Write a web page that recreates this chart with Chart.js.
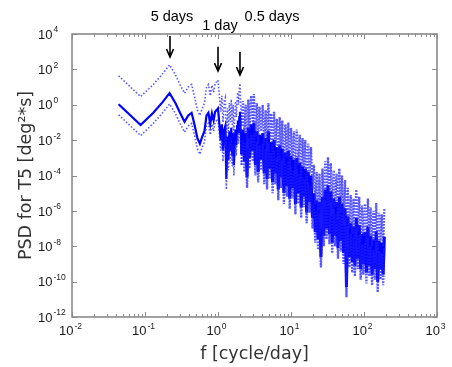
<!DOCTYPE html>
<html><head><meta charset="utf-8">
<script src="https://cdn.jsdelivr.net/npm/chart.js@4.4.1/dist/chart.umd.min.js"></script>
<style>html,body{margin:0;padding:0;background:#fff;overflow:hidden}canvas{display:block}</style>
</head><body>
<canvas id="c" width="452" height="367"></canvas>
<script>
// Frequency [cycle/day]
const frequency = [
  0.0435, 0.087, 0.13, 0.174, 0.217, 0.261, 0.304, 0.348, 0.391, 0.435,
  0.478, 0.522, 0.565, 0.609, 0.652, 0.696, 0.739, 0.783, 0.826, 0.87,
  0.913, 0.957, 1.0, 1.04, 1.09, 1.13, 1.17, 1.22, 1.26, 1.30,
  1.35, 1.39, 1.43, 1.48, 1.52, 1.57, 1.61, 1.65, 1.70, 1.74,
  1.78, 1.83, 1.87, 1.91, 1.96, 2.0,
  2.1, 2.2, 2.3, 2.4, 2.5, 2.6, 2.7, 2.85, 3.0, 3.1,
  3.25, 3.4, 3.55, 3.7, 3.9, 4.1, 4.3, 4.5, 4.7, 4.9,
  5.1, 5.35, 5.6, 5.85, 6.1, 6.4, 6.7, 7.0, 7.3, 7.6,
  8.0, 8.4, 8.8, 9.2, 9.6, 10, 10.5, 11, 11.5, 12,
  12.6, 13.2, 13.8, 14.4, 15, 15.7, 16.4, 17.2, 18, 18.8,
  19.7, 20.6, 21.5, 22.5, 23.5, 24.6, 25.7, 26.9, 28.1, 29.4,
  30.7, 32.1, 33.6, 35.1, 36.7, 38.4, 40.2, 42, 44, 46,
  48, 50, 52.5, 55, 57.5, 60, 63, 66, 69, 72,
  75, 78.5, 82, 86, 90, 94, 98, 103, 108, 113,
  118, 123, 129, 135, 141, 147, 154, 161, 168, 175,
  183, 190
];
// PSD estimate [deg^2*s]
const psd = [
  1.07, 7.2e-2, 0.35, 1.4, 4.5, 1.26, 0.33, 0.11, 0.25, 0.35,
  7.1e-2, 1.3e-2, 6.3e-3, 1.6e-2, 3.2e-2, 0.25, 0.35, 7.9e-2, 0.32, 0.13,
  0.4, 0.5, 0.63, 0.1, 1e-2, 7.9e-2, 2.5e-3, 4e-2, 6.3e-2, 6.3e-5,
  1.6e-2, 7.9e-4, 3.2e-2, 2.5e-3, 5e-2, 1.3e-3, 2.5e-2, 4e-4, 1e-2, 4e-2,
  5e-3, 6.3e-2, 0.13, 2.5e-2, 0.2, 0.4,
  1.6e-3, 4e-2, 6.3e-4, 2.5e-2, 7.9e-5, 5e-2, 1e-3, 7.9e-2, 2.5e-3, 0.1,
  4e-4, 3.2e-2, 1.6e-4, 2e-2, 7.9e-4, 2.5e-2, 1.3e-4, 1.3e-2, 6.3e-5, 3.2e-2,
  2.5e-4, 7.9e-3, 4e-5, 1e-2, 1.3e-4, 4e-3, 1.6e-5, 5e-3, 7.9e-5, 3.2e-3,
  1e-5, 2e-3, 2.5e-5, 2.5e-3, 5e-6, 1.3e-3, 2e-5, 7.9e-4, 2.5e-6, 1e-3,
  1e-5, 5e-4, 1.6e-6, 3.2e-4, 6.3e-6, 2.5e-4, 7.9e-7, 1.6e-4, 3.2e-6, 1e-4,
  4e-7, 1e-5, 6.3e-8, 4e-6, 2.5e-8, 3.2e-6, 2.5e-9, 6.3e-6, 4e-8, 1.6e-5,
  1e-7, 2.8e-5, 5e-8, 1.3e-5, 1.6e-8, 5e-6, 4e-8, 3.2e-6, 7.9e-9, 6.3e-6,
  2e-8, 2.5e-6, 4e-9, 1.4e-6, 5e-11, 5e-7, 2.5e-9, 2e-7, 1.3e-9, 1.3e-7,
  7.9e-10, 4e-7, 2e-9, 1.6e-7, 5e-10, 5e-8, 1e-9, 6.3e-8, 3.2e-10, 1.3e-7,
  7.9e-10, 4e-8, 2.5e-10, 2.5e-8, 5e-10, 7.1e-8, 1e-10, 2e-8, 5e-10, 1.6e-8,
  2.5e-10, 3.5e-8
];
// Upper confidence bound
const psdUpper = [
  43, 2.9, 14, 56, 180, 50, 13, 4.5, 10, 14,
  2.8, 0.5, 0.25, 0.63, 1.26, 10, 14, 3.2, 12.6, 5,
  16, 20, 25, 4, 0.4, 3.2, 0.1, 1.6, 2.5, 2.5e-3,
  0.63, 3.2e-2, 1.26, 0.1, 2, 5e-2, 1, 1.6e-2, 0.4, 1.6,
  0.2, 2.5, 5, 1, 7.9, 16,
  6.3e-2, 1.6, 2.5e-2, 1, 3.2e-3, 2, 4e-2, 3.2, 0.1, 4,
  1.6e-2, 1.26, 6.3e-3, 0.79, 3.2e-2, 1, 5e-3, 0.5, 2.5e-3, 1.26,
  1e-2, 0.32, 1.6e-3, 0.4, 5e-3, 0.16, 6.3e-4, 0.2, 3.2e-3, 0.13,
  4e-4, 7.9e-2, 1e-3, 0.1, 2e-4, 5e-2, 7.9e-4, 3.2e-2, 1e-4, 4e-2,
  4e-4, 2e-2, 6.3e-5, 1.3e-2, 2.5e-4, 1e-2, 3.2e-5, 6.3e-3, 1.3e-4, 4e-3,
  1.6e-5, 4e-4, 2.5e-6, 1.6e-4, 1e-6, 1.3e-4, 1e-7, 2.5e-4, 1.6e-6, 6.3e-4,
  4e-6, 1.1e-3, 2e-6, 5e-4, 6.3e-7, 2e-4, 1.6e-6, 1.3e-4, 3.2e-7, 2.5e-4,
  7.9e-7, 1e-4, 1.6e-7, 5.6e-5, 2e-9, 2e-5, 1e-7, 7.9e-6, 5e-8, 5e-6,
  3.2e-8, 1.6e-5, 7.9e-8, 6.3e-6, 2e-8, 2e-6, 4e-8, 2.5e-6, 1.3e-8, 5e-6,
  3.2e-8, 1.6e-6, 1e-8, 1e-6, 2e-8, 2.8e-6, 4e-9, 7.9e-7, 2e-8, 6.3e-7,
  1e-8, 1.4e-6
];
// Lower confidence bound
const psdLower = [
  0.27, 1.8e-2, 8.9e-2, 0.35, 1.1, 0.32, 8.3e-2, 2.8e-2, 6.3e-2, 8.9e-2,
  1.8e-2, 3.2e-3, 1.6e-3, 4e-3, 7.9e-3, 6.3e-2, 8.9e-2, 2e-2, 7.9e-2, 3.2e-2,
  0.1, 0.13, 0.16, 2.5e-2, 2.5e-3, 2e-2, 6.3e-4, 1e-2, 1.6e-2, 1.6e-5,
  4e-3, 2e-4, 7.9e-3, 6.3e-4, 1.3e-2, 3.2e-4, 6.3e-3, 1e-4, 2.5e-3, 1e-2,
  1.3e-3, 1.6e-2, 3.2e-2, 6.3e-3, 5e-2, 0.1,
  4e-4, 1e-2, 1.6e-4, 6.3e-3, 2e-5, 1.3e-2, 2.5e-4, 2e-2, 6.3e-4, 2.5e-2,
  1e-4, 7.9e-3, 4e-5, 5e-3, 2e-4, 6.3e-3, 3.2e-5, 3.2e-3, 1.6e-5, 7.9e-3,
  6.3e-5, 2e-3, 1e-5, 2.5e-3, 3.2e-5, 1e-3, 4e-6, 1.3e-3, 2e-5, 7.9e-4,
  2.5e-6, 5e-4, 6.3e-6, 6.3e-4, 1.3e-6, 3.2e-4, 5e-6, 2e-4, 6.3e-7, 2.5e-4,
  2.5e-6, 1.3e-4, 4e-7, 7.9e-5, 1.6e-6, 6.3e-5, 2e-7, 4e-5, 7.9e-7, 2.5e-5,
  1e-7, 2.5e-6, 1.6e-8, 1e-6, 6.3e-9, 7.9e-7, 6.3e-10, 1.6e-6, 1e-8, 4e-6,
  2.5e-8, 7.1e-6, 1.3e-8, 3.2e-6, 4e-9, 1.3e-6, 1e-8, 7.9e-7, 2e-9, 1.6e-6,
  5e-9, 6.3e-7, 1e-9, 3.5e-7, 1.3e-11, 1.3e-7, 6.3e-10, 5e-8, 3.2e-10, 3.2e-8,
  2e-10, 1e-7, 5e-10, 4e-8, 1.3e-10, 1.3e-8, 2.5e-10, 1.6e-8, 7.9e-11, 3.2e-8,
  2e-10, 1e-8, 6.3e-11, 6.3e-9, 1.3e-10, 1.8e-8, 2.5e-11, 5e-9, 1.3e-10, 4e-9,
  6.3e-11, 8.9e-9
];

const xTickValues = [1e-2, 1e-1, 1, 10, 100, 1000];
const xTickLabels = ['10^-2', '10^-1', '10^0', '10^1', '10^2', '10^3'];
const yTickValues = [1e-12, 1e-10, 1e-8, 1e-6, 1e-4, 1e-2, 1, 1e2, 1e4];
const yTickLabels = ['10^-12', '10^-10', '10^-8', '10^-6', '10^-4', '10^-2', '10^0', '10^2', '10^4'];

// Period markers (frequency in cycle/day, arrow tip / tail in PSD units)
const markerLabels = ['5 days', '1 day', '0.5 days'];
const markerFreqs = [0.22, 1.0, 2.0];
const markerTipValues = [500, 80, 48];
const markerTailValues = [7800, 1900, 950];

// layout of marker texts (pixels)
const markerTextLayout = [{dx: 2, y: 17}, {dx: 2, y: 26}, {dx: 32, y: 17}];

function toPoints(ys) { return frequency.map((f, i) => ({x: f, y: ys[i]})); }
function sameVal(a, b) { return Math.abs(a - b) <= Math.abs(b) * 1e-9; }

const baseFont = '13px "Liberation Sans", Arial, sans-serif';
const expFont = '8.5px "Liberation Sans", Arial, sans-serif';

function powerLabel(ctx, label, x, yBase, align) {
  const [base, exp] = label.split('^');
  ctx.font = baseFont;
  const wb = ctx.measureText(base).width;
  ctx.font = expFont;
  const we = ctx.measureText(exp).width + 1;
  const x0 = align === 'left' ? x : x - (wb + we) / 2;
  ctx.textAlign = 'left';
  ctx.textBaseline = 'alphabetic';
  ctx.font = baseFont;
  ctx.fillText(base, x0, yBase);
  ctx.font = expFont;
  ctx.fillText(exp, x0 + wb + 1, yBase - 6.3);
}

const framePlugin = {
  id: 'frame',
  afterDatasetsDraw(chart) {
    const {ctx, chartArea: a, scales: {x, y}} = chart;
    ctx.save();
    ctx.strokeStyle = '#8a8a8a';
    ctx.lineWidth = 1;
    ctx.beginPath();
    x.ticks.forEach(t => {
      const px = Math.round(x.getPixelForValue(t.value)) + 0.5;
      const len = xTickValues.some(v => sameVal(t.value, v)) ? 5 : 3;
      ctx.moveTo(px, a.bottom); ctx.lineTo(px, a.bottom - len);
      ctx.moveTo(px, a.top); ctx.lineTo(px, a.top + len);
    });
    y.ticks.forEach(t => {
      const py = Math.round(y.getPixelForValue(t.value)) + 0.5;
      ctx.moveTo(a.left, py); ctx.lineTo(a.left + 5, py);
      ctx.moveTo(a.right, py); ctx.lineTo(a.right - 5, py);
    });
    ctx.stroke();
    ctx.lineWidth = 1.6;
    ctx.strokeRect(a.left, a.top, a.right - a.left, a.bottom - a.top);

    // tick labels (10 with raised exponent)
    ctx.fillStyle = '#1a1a1a';
    xTickValues.forEach((v, i) => {
      powerLabel(ctx, xTickLabels[i], x.getPixelForValue(v) - 1.5, a.bottom + 18, 'center');
    });
    yTickValues.forEach((v, i) => {
      powerLabel(ctx, yTickLabels[i], 38, y.getPixelForValue(v) + 4.7, 'left');
    });
    ctx.restore();
  }
};

const markerPlugin = {
  id: 'markers',
  afterDraw(chart) {
    const {ctx, scales: {x, y}} = chart;
    ctx.save();
    ctx.strokeStyle = '#000';
    ctx.fillStyle = '#000';
    ctx.lineWidth = 1.6;
    ctx.font = '14.5px "Liberation Sans", Arial, sans-serif';
    ctx.textAlign = 'center';
    ctx.textBaseline = 'middle';
    markerLabels.forEach((lab, i) => {
      const px = x.getPixelForValue(markerFreqs[i]);
      const tip = y.getPixelForValue(markerTipValues[i]);
      const tail = y.getPixelForValue(markerTailValues[i]);
      ctx.beginPath();
      ctx.moveTo(px, tail); ctx.lineTo(px, tip);
      ctx.moveTo(px - 3.5, tip - 8); ctx.lineTo(px, tip); ctx.lineTo(px + 3.5, tip - 8);
      ctx.stroke();
      const L = markerTextLayout[i];
      ctx.fillText(lab, px + L.dx, L.y);
    });
    ctx.restore();
  }
};

const titleFont = {family: '"DejaVu Sans", sans-serif', size: 17.5};
const denseFrom = 2.05; // frequency where the spectrum becomes a dense band
const boundStyle = {
  borderColor: 'rgba(30,30,255,0.75)', borderWidth: 1.6, borderDash: [1.5, 1.9],
  pointRadius: 0, tension: 0, fill: false,
  segment: {
    borderWidth: c => c.p0.parsed.x >= denseFrom ? 2.3 : 1.6,
    borderDash: c => c.p0.parsed.x >= denseFrom ? [1.8, 1.2] : [1.5, 1.9]
  }
};

new Chart(document.getElementById('c'), {
  type: 'line',
  data: {
    datasets: [
      Object.assign({data: toPoints(psdUpper)}, boundStyle),
      Object.assign({data: toPoints(psdLower)}, boundStyle),
      {data: toPoints(psd), borderColor: '#0000ff', borderWidth: 2.2, pointRadius: 0, tension: 0, fill: false,
       segment: {borderWidth: c => c.p0.parsed.x >= denseFrom ? 3 : 2.2}}
    ]
  },
  options: {
    responsive: false,
    animation: false,
    devicePixelRatio: 1,
    layout: {padding: {top: 34, right: 15, left: 0, bottom: 0}},
    plugins: {legend: {display: false}, tooltip: {enabled: false}},
    scales: {
      x: {
        type: 'logarithmic', min: 1e-2, max: 1e3,
        grid: {display: false}, border: {display: false},
        afterBuildTicks(s) {
          const t = [];
          for (let d = 0; d < xTickValues.length - 1; d++) {
            for (let m = 1; m <= 9; m++) t.push({value: xTickValues[d] * m});
          }
          t.push({value: xTickValues[xTickValues.length - 1]});
          s.ticks = t;
        },
        afterFit(s) { s.height = 50; },
        ticks: {display: false, autoSkip: false},
        title: {display: true, text: 'f [cycle/day]', font: titleFont, color: '#333', padding: {top: 0, bottom: 2}}
      },
      y: {
        type: 'logarithmic', min: 1e-12, max: 1e4,
        grid: {display: false}, border: {display: false},
        afterBuildTicks(s) { s.ticks = yTickValues.map(v => ({value: v})); },
        afterFit(s) { s.width = 72; },
        ticks: {display: false, autoSkip: false},
        title: {display: true, text: 'PSD for T5 [deg²*s]', font: titleFont, color: '#333', padding: {top: 16, bottom: 0}}
      }
    }
  },
  plugins: [framePlugin, markerPlugin]
});
</script>
</body></html>
